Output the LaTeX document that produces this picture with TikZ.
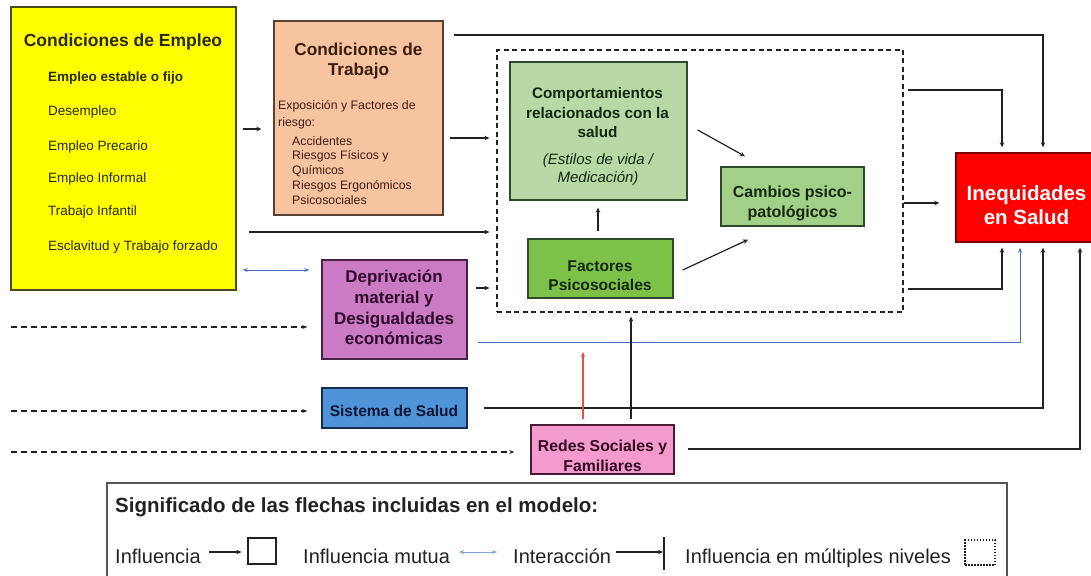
\documentclass[tikz,border=0pt]{standalone}
\usepackage{fontspec}
\setmainfont{Liberation Sans}
\usetikzlibrary{arrows.meta,calc}
\definecolor{cYel}{HTML}{FFFF00}
\definecolor{cYelB}{HTML}{4A4A20}
\definecolor{cPeach}{HTML}{F7C4A2}
\definecolor{cPeachB}{HTML}{5A4030}
\definecolor{cGreenL}{HTML}{B6D9A5}
\definecolor{cGreenM}{HTML}{A2D088}
\definecolor{cGreenD}{HTML}{7EC148}
\definecolor{cGreenB}{HTML}{2F4A2A}
\definecolor{cRed}{HTML}{FF0000}
\definecolor{cRedB}{HTML}{7A0000}
\definecolor{cPurple}{HTML}{CB7BC4}
\definecolor{cPurpleB}{HTML}{4A2045}
\definecolor{cBlue}{HTML}{4F94D8}
\definecolor{cBlueB}{HTML}{1A2F50}
\definecolor{cPink}{HTML}{F39BCF}
\definecolor{cPinkB}{HTML}{4A1A35}
\definecolor{cLine}{HTML}{222222}
\definecolor{cBlueL}{HTML}{4A6FC0}
\definecolor{cBlueLL}{HTML}{7FA6D8}
\definecolor{cRedL}{HTML}{E85050}
\definecolor{cLegB}{HTML}{555555}
\definecolor{cTxtY}{HTML}{2A2A05}
\definecolor{cTxtT}{HTML}{3C1E10}
\definecolor{cTxtG}{HTML}{14280F}
\definecolor{cTxtP}{HTML}{300A30}
\definecolor{cTxtS}{HTML}{0A1633}
\definecolor{cTxtR}{HTML}{330A22}
\newcommand\fsz[2]{\fontsize{#1}{#2}\selectfont}
\begin{document}
\begin{tikzpicture}[x=1pt,y=-1pt,
  bx/.style={rectangle, inner sep=0pt, line width=1.4pt},
  tx/.style={inner sep=0pt, align=center},
  lt/.style={inner sep=0pt, anchor=base west},
  arr/.style={draw=cLine, line width=1.2pt, -{Stealth[length=5pt,width=4.5pt]}},
  barr/.style={draw=cBlueL, line width=1pt, -{Stealth[length=5pt,width=4pt]}},
  dbarr/.style={draw=cBlueL, line width=1pt, {Stealth[length=5pt,width=4pt]}-{Stealth[length=5pt,width=4pt]}},
  rarr/.style={draw=cRedL, line width=1.2pt, -{Stealth[length=5pt,width=4pt]}},
  darr/.style={draw=cLine, line width=1.4pt, dash pattern=on 6pt off 4pt, -{Stealth[length=5pt,width=4pt]}},
  multi/.style={draw=cLine, line width=1.3pt, dash pattern=on 5pt off 3.5pt}
]
\useasboundingbox (0,0) rectangle (1091,575);

% Condiciones de Empleo
\node[bx, fill=cYel, draw=cYelB, minimum width=225pt, minimum height=283pt] (empleo) at (123.5,148.5) {};
\node[tx, anchor=base, font=\bfseries\fsz{17.5}{21}, text=cTxtY] (empleoT) at (123,47) {Condiciones de Empleo};
\node[lt, font=\bfseries\fsz{13.5}{16}, text=cTxtY] (e1) at (48,82) {Empleo estable o fijo};
\node[lt, font=\fsz{13.5}{16}, text=cTxtY] (e2) at (48,115) {Desempleo};
\node[lt, font=\fsz{13.5}{16}, text=cTxtY] (e3) at (48,150) {Empleo Precario};
\node[lt, font=\fsz{13.5}{16}, text=cTxtY] (e4) at (48,182) {Empleo Informal};
\node[lt, font=\fsz{13.5}{16}, text=cTxtY] (e5) at (48,215) {Trabajo Infantil};
\node[lt, font=\fsz{13.5}{16}, text=cTxtY] (e6) at (48,250) {Esclavitud y Trabajo forzado};

% Condiciones de Trabajo
\node[bx, fill=cPeach, draw=cPeachB, minimum width=169pt, minimum height=194pt] (ct) at (358.5,118) {};
\node[tx, font=\bfseries\fsz{17.2}{20}, text=cTxtT] (ctT) at (358.5,61.5) {Condiciones de\\Trabajo};
\node[lt, font=\fsz{12.3}{15}, text=cTxtT] (ct1) at (278,110) {Exposición y Factores de};
\node[lt, font=\fsz{12.3}{15}, text=cTxtT] (ct2) at (278,126) {riesgo:};
\node[lt, font=\fsz{12.3}{15}, text=cTxtT] (ct3) at (292,145) {Accidentes};
\node[lt, font=\fsz{12.3}{15}, text=cTxtT] (ct4) at (292,159.5) {Riesgos Físicos y};
\node[lt, font=\fsz{12.3}{15}, text=cTxtT] (ct5) at (292,174.5) {Químicos};
\node[lt, font=\fsz{12.3}{15}, text=cTxtT] (ct6) at (292,189) {Riesgos Ergonómicos};
\node[lt, font=\fsz{12.3}{15}, text=cTxtT] (ct7) at (292,204) {Psicosociales};

% multi-level dashed box
\node[bx, multi, minimum width=406pt, minimum height=262pt] (dbox) at (700,181) {};

% green boxes
\node[bx, fill=cGreenL, draw=cGreenB, minimum width=177pt, minimum height=138pt] (comp) at (598.5,131) {};
\node[tx, font=\bfseries\fsz{15.3}{19.5}, text=cTxtG] (compT) at (597.5,113) {Comportamientos\\relacionados con la\\salud};
\node[tx, font=\itshape\fsz{15}{18}, text=cTxtG] (compI) at (598,169.5) {(Estilos de vida /\\Medicación)};
\node[bx, fill=cGreenM, draw=cGreenB, minimum width=143pt, minimum height=59pt] (cambios) at (792.5,196.5) {};
\node[tx, font=\bfseries\fsz{16}{20}, text=cTxtG] (cambiosT) at (792.5,203.5) {Cambios psico-\\patológicos};
\node[bx, fill=cGreenD, draw=cGreenB, minimum width=145pt, minimum height=59pt] (factores) at (600.5,268.5) {};
\node[tx, font=\bfseries\fsz{15.6}{19}, text=cTxtG] (factoresT) at (600,275.5) {Factores\\Psicosociales};

% Inequidades
\node[bx, fill=cRed, draw=cRedB, minimum width=144pt, minimum height=89pt] (ineq) at (1028,197.5) {};
\node[tx, font=\bfseries\fsz{20.5}{24}, text=white] (ineqT) at (1026.5,205.5) {Inequidades\\en Salud};

% Deprivacion, Sistema, Redes
\node[bx, fill=cPurple, draw=cPurpleB, minimum width=145pt, minimum height=99pt] (depriv) at (394.5,309.5) {};
\node[tx, font=\bfseries\fsz{17}{20.7}, text=cTxtP] (deprivT) at (394,307.5) {Deprivación\\material y\\Desigualdades\\económicas};
\node[bx, fill=cBlue, draw=cBlueB, minimum width=145pt, minimum height=40pt] (sistema) at (394.5,408) {};
\node[tx, font=\bfseries\fsz{15.5}{18}, text=cTxtS] (sistemaT) at (394,411) {Sistema de Salud};
\node[bx, fill=cPink, draw=cPinkB, minimum width=143pt, minimum height=49pt] (redes) at (602.5,449.5) {};
\node[tx, font=\bfseries\fsz{15.8}{19.5}, text=cTxtR] (redesT) at (602.5,456) {Redes Sociales y\\Familiares};

% connectors
\draw[arr, shorten <=6pt, shorten >=12pt] (empleo.east |- 0,129) -- (ct.west |- 0,129);
\draw[arr, shorten <=12pt, shorten >=7pt] (empleo.east |- 0,232) -- (dbox.west |- 0,232);
\draw[dbarr, shorten <=6pt, shorten >=12pt] (empleo.east |- 0,270) -- (depriv.west |- 0,270);
\draw[arr, shorten <=6pt, shorten >=7pt] (ct.east |- 0,138) -- (dbox.west |- 0,138);
\draw[arr, shorten <=10pt, shorten >=5pt] (ct.east |- 0,35) -| (1043,0 |- ineq.north);
\draw[arr, shorten <=8pt, shorten >=7pt] (depriv.east |- 0,288) -- (dbox.west |- 0,288);
\draw[arr, shorten <=4pt, shorten >=5pt] (dbox.east |- 0,90) -| (1002,0 |- ineq.north);
\draw[arr, shorten >=16pt] (dbox.east |- 0,203) -- (ineq.west |- 0,203);
\draw[arr, shorten <=4pt, shorten >=5pt] (dbox.east |- 0,289) -| (1002,0 |- ineq.south);
\draw[barr, shorten <=10pt, shorten >=5pt] (depriv.east |- 0,342) -| (1020,0 |- ineq.south);
\draw[arr, shorten <=16pt, shorten >=5pt] (sistema.east |- 0,408) -| (1043,0 |- ineq.south);
\draw[arr, shorten <=13pt, shorten >=5pt] (redes.east |- 0,449) -| (1080,0 |- ineq.south);
\coordinate (redTip) at (583,352);
\draw[rarr, shorten <=5pt] (redTip |- redes.north) -- (redTip);
\draw[arr, shorten <=5pt, shorten >=4pt] (631,0 |- redes.north) -- (631,0 |- dbox.south);
\coordinate (L1) at (11,327);
\coordinate (L2) at (11,411);
\coordinate (L3) at (11,452);
\draw[darr, shorten >=14pt] (L1) -- (depriv.west |- L1);
\draw[darr, shorten >=14pt] (L2) -- (sistema.west |- L2);
\draw[darr, shorten >=16pt] (L3) -- (redes.west |- L3);
\draw[arr] ($(comp.east)+(10,-1)$) -- ($(cambios.north)+(-47.5,-10)$);
\draw[arr, shorten <=7pt, shorten >=7pt] (598,0 |- factores.north) -- (598,0 |- comp.south);
\draw[arr] ($(factores.east)+(9,1.5)$) -- ($(cambios.south)+(-44.5,13)$);

% legend
\node[bx, draw=cLegB, line width=1.3pt, minimum width=900pt, minimum height=120pt] (legend) at (557,543) {};
\node[lt, font=\bfseries\fsz{20.5}{24}, text=cLine] (legT) at (115,512) {Significado de las flechas incluidas en el modelo:};
\node[lt, font=\fsz{20}{24}, text=cLine] (lg1) at (115,563) {Influencia};
\node[draw=cLine, line width=1.2pt, minimum width=28pt, minimum height=26pt, inner sep=0pt] (lsq) at (262,551) {};
\node[lt, font=\fsz{20}{24}, text=cLine] (lg2) at (303,563) {Influencia mutua};
\node[lt, font=\fsz{20}{24}, text=cLine] (lg3) at (513,563) {Interacción};
\node[inner sep=0pt, minimum width=0pt, minimum height=33pt] (lbar) at (664,553.5) {};
\node[lt, font=\fsz{20}{24}, text=cLine] (lg4) at (685,563) {Influencia en múltiples niveles};
\node[draw=cLine, line width=1.1pt, dash pattern=on 1.5pt off 1.5pt, minimum width=30pt, minimum height=25pt, inner sep=0pt] (ldot) at (980,552.5) {};
\draw[arr, shorten <=8pt, shorten >=6pt] (lg1.east |- 0,552) -- (lsq.west |- 0,552);
\draw[draw=cBlueLL, line width=1pt, {Stealth[length=5pt,width=4pt]}-{Stealth[length=5pt,width=4pt]}, shorten <=9pt, shorten >=16pt] (lg2.east |- 0,552) -- (lg3.west |- 0,552);
\draw[arr, shorten <=5pt, shorten >=1pt] (lg3.east |- 0,552) -- (lbar.center |- 0,552);
\draw[draw=cLine, line width=1.2pt] (lbar.north) -- (lbar.south);
\end{tikzpicture}
\end{document}
